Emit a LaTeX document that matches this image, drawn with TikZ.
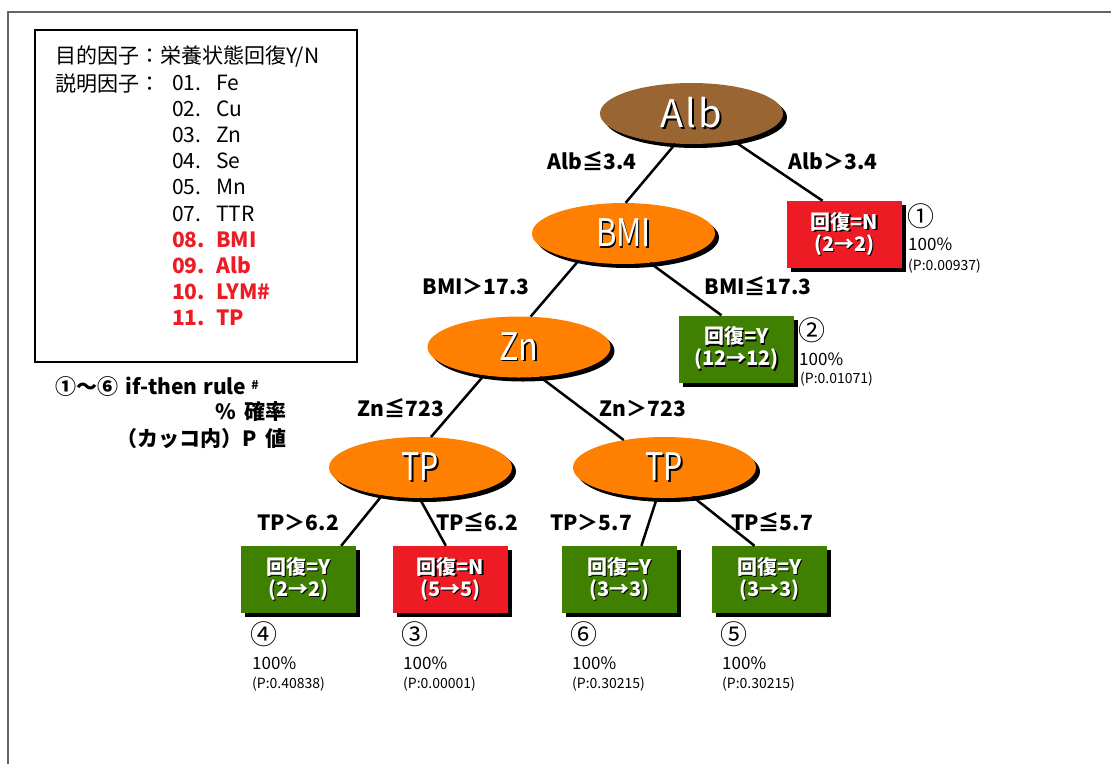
\documentclass[tikz,border=0pt]{standalone}
\usepackage{fontspec}
\setmainfont{Noto Sans CJK JP}
\usetikzlibrary{shapes.geometric,shadows,calc}
\definecolor{brn}{RGB}{153,102,51}
\definecolor{org}{RGB}{255,128,0}
\definecolor{lred}{RGB}{237,28,36}
\definecolor{lgreen}{RGB}{64,128,0}
\definecolor{framec}{RGB}{100,100,100}
\newcommand{\wsh}[1]{\rlap{\kern1.3pt\raisebox{-1.3pt}{\color{black}#1}}{\color{white}#1}}
\newcommand{\fs}[1]{\fontsize{#1}{#1}\selectfont}
\tikzset{
  ell/.style={ellipse, minimum width=183pt, minimum height=61pt, inner sep=0pt,
    drop shadow={shadow xshift=4pt, shadow yshift=-4pt, fill=black, opacity=1},
    font=\fs{38}},
  leaf/.style={rectangle, minimum width=115pt, minimum height=67pt, inner sep=0pt,
    drop shadow={shadow xshift=4pt, shadow yshift=-4pt, fill=black, opacity=1},
    align=center, font=\bfseries\fontsize{20}{22}\selectfont},
  edge/.style={line width=2.5pt, black},
  elab/.style={anchor=base, inner sep=0pt, font=\bfseries\fs{21}},
  circ/.style={inner sep=0pt, font=\fs{27}},
  pct/.style={anchor=base west, inner sep=0pt, font=\fs{17}},
  pval/.style={anchor=base west, inner sep=0pt, font=\fs{14}},
  leg/.style={anchor=base west, inner sep=0pt, font=\fs{21}},
}
\begin{document}
\begin{tikzpicture}[x=1pt,y=-1pt]
\useasboundingbox (0,0) rectangle (1111,764);
% outer frame
\draw[framec, line width=2pt] (8,764) -- (8,12) -- (1111,12);
% legend box
\node[draw, line width=1.5pt, minimum width=322pt, minimum height=332pt, inner sep=0pt] (legend) at (196,196) {};
\node[leg] (goal) at (55,63) {目的因子：栄養状態回復Y/N};
\node[leg] (expl) at (55,91) {説明因子：};
\node[anchor=base west, inner sep=0pt, font=\fontsize{21}{26.2}\selectfont] (list) at (172,90) {%
\begin{tabular}[t]{@{}p{44pt}@{}l@{}}
01. & Fe\\
02. & Cu\\
03. & Zn\\
04. & Se\\
05. & Mn\\
07. & TTR\\
\textcolor{lred}{\bfseries 08.} & \textcolor{lred}{\bfseries BMI}\\
\textcolor{lred}{\bfseries 09.} & \textcolor{lred}{\bfseries Alb}\\
\textcolor{lred}{\bfseries 10.} & \textcolor{lred}{\bfseries LYM\#}\\
\textcolor{lred}{\bfseries 11.} & \textcolor{lred}{\bfseries TP}
\end{tabular}};
\node[leg, font=\bfseries\fs{21}] (rule) at (55,394) {①～⑥ \kern2pt i\kern1pt f-then \kern1pt rule \raisebox{5pt}{\fs{12}\#}};
\node[anchor=base east, inner sep=0pt, font=\bfseries\fs{21}] (prob) at (287,419) {\% \kern4pt 確率};
\node[anchor=base east, inner sep=0pt, font=\bfseries\fs{21}] (pv) at (287,446) {（カッコ内）P \kern4pt 値};
% tree nodes
\node[ell, fill=brn] (alb) at (691.5,113.5) {\wsh{A\kern2pt l\kern2pt b}};
\node[ell, fill=org] (bmi) at (623.5,233.5) {\wsh{\scalebox{0.82}[1]{BMI}}};
\node[ell, fill=org] (zn) at (519,347) {\wsh{\scalebox{0.85}[1]{Zn}}};
\node[ell, fill=org] (tpl) at (420.5,467.5) {\wsh{\scalebox{0.8}[1]{TP}}};
\node[ell, fill=org] (tpr) at (664.5,467.5) {\wsh{\scalebox{0.8}[1]{TP}}};
% leaves
\node[leaf, fill=lred] (l1) at (844.5,234.5) {\wsh{回復=N}\\\wsh{(2→2)}};
\node[leaf, fill=lgreen] (l2) at (736.5,349) {\wsh{回復=Y}\\\wsh{(12→12)}};
\node[leaf, fill=lgreen] (l4) at (298.5,579.5) {\wsh{回復=Y}\\\wsh{(2→2)}};
\node[leaf, fill=lred] (l3) at (450.5,579.5) {\wsh{回復=N}\\\wsh{(5→5)}};
\node[leaf, fill=lgreen] (l6) at (619.5,579.5) {\wsh{回復=Y}\\\wsh{(3→3)}};
\node[leaf, fill=lgreen] (l5) at (769.5,579.5) {\wsh{回復=Y}\\\wsh{(3→3)}};
% edges
\draw[edge] (alb.242) -- (bmi.86);
\draw[edge] (alb.327) -- ($(l1.north west)!0.31!(l1.north east)$);
\draw[edge] (bmi.211) -- (zn.69);
\draw[edge] (bmi.312) -- ($(l2.north west)!0.37!(l2.north east)$);
\draw[edge] (zn.219) -- (tpl.71);
\draw[edge] (zn.305) -- (tpr.146);
\draw[edge] (tpl.216) -- ($(l4.north west)!0.87!(l4.north east)$);
\draw[edge] (tpl.268) -- ($(l3.north west)!0.46!(l3.north east)$);
\draw[edge] (tpr.256) -- ($(l6.north west)!0.69!(l6.north east)$);
\draw[edge] (tpr.314) -- ($(l5.north west)!0.37!(l5.north east)$);
% edge labels
\node[elab] (e1) at (592,169) {Alb≦3.4};
\node[elab] (e2) at (833,169) {Alb＞3.4};
\node[elab] (e3) at (476,294) {BMI＞17.3};
\node[elab] (e4) at (758,294) {BMI≦17.3};
\node[elab] (e5) at (401,416) {Zn≦723};
\node[elab] (e6) at (643,416) {Zn＞723};
\node[elab] (e7) at (298,530) {TP＞6.2};
\node[elab] (e8) at (477,530) {TP≦6.2};
\node[elab] (e9) at (591,530) {TP＞5.7};
\node[elab] (e10) at (772,530) {TP≦5.7};
% leaf info
\node[circ] (c1) at (921,216) {①};
\node[pct] (p1) at (908,250) {100\%};
\node[pval] (v1) at (908,270) {(P:0.00937)};
\node[circ] (c2) at (812,330) {②};
\node[pct] (p2) at (799,365) {100\%};
\node[pval] (v2) at (800,383) {(P:0.01071)};
\node[circ] (c4) at (264,634) {④};
\node[pct] (p4) at (252,669) {100\%};
\node[pval] (v4) at (252,688) {(P:0.40838)};
\node[circ] (c3) at (415,634) {③};
\node[pct] (p3) at (403,669) {100\%};
\node[pval] (v3) at (403,688) {(P:0.00001)};
\node[circ] (c6) at (584,634) {⑥};
\node[pct] (p6) at (572,669) {100\%};
\node[pval] (v6) at (572,688) {(P:0.30215)};
\node[circ] (c5) at (734,634) {⑤};
\node[pct] (p5) at (722,669) {100\%};
\node[pval] (v5) at (722,688) {(P:0.30215)};
\end{tikzpicture}
\end{document}
